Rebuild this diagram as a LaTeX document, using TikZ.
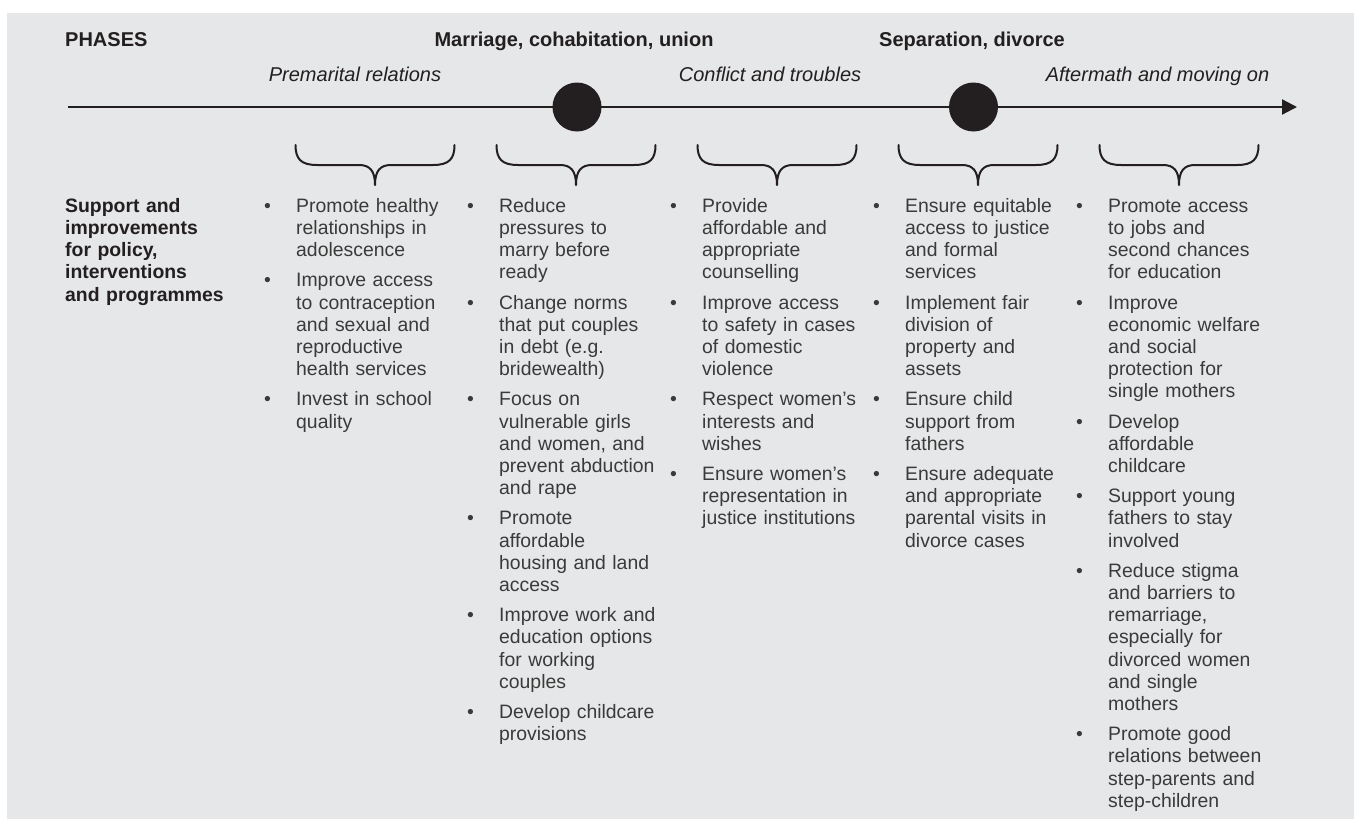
\documentclass[tikz,border=0pt]{standalone}
\usepackage{fontspec}
\setmainfont{Liberation Sans}
\usetikzlibrary{arrows.meta}
\definecolor{bg}{HTML}{E6E7E8}
\definecolor{ink}{HTML}{231F20}
\definecolor{bodytext}{HTML}{3A3A3A}
\newcommand{\bl}{\leavevmode\llap{\makebox[32pt][l]{•}}}
\newcommand{\fs}{\fontsize{19.4}{22.2}\selectfont}
\newcommand{\fst}{\rule{0pt}{16pt}}
\begin{document}
\begin{tikzpicture}[x=1pt,y=-1pt,
  hd/.style={font=\fontsize{20}{24}\selectfont\bfseries, text=ink, inner sep=0, anchor=base},
  ph/.style={font=\fontsize{20}{24}\selectfont\itshape, text=ink, inner sep=0, anchor=base},
  col/.style={font=\fs, text=bodytext, inner sep=0, anchor=north west, text width=175pt, align=left},
  lbl/.style={font=\fs\bfseries, text=ink, inner sep=0, anchor=north west, text width=180pt, align=left},
  axis/.style={draw=ink, line width=2.2pt},
  dot/.style={circle, fill=ink, minimum size=49pt, inner sep=0},
  brc/.style={draw=ink, line width=2pt, line join=round, line cap=round}]
\fill[white] (0,0) rectangle (1354,819);
\fill[bg] (7,13) rectangle (1354,819);
\useasboundingbox (0,0) rectangle (1354,819);

% headings
\node[hd, anchor=base west] (phases) at (65,46) {PHASES};
\node[hd] (marr) at (574,46) {Marriage, cohabitation, union};
\node[hd] (sep) at (972,46) {Separation, divorce};
\node[ph] (pre) at (355,81) {Premarital relations};
\node[ph] (con) at (770,81) {Conflict and troubles};
\node[ph] (aft) at (1157.5,81) {Aftermath and moving on};

% axis
\coordinate (axs) at (68,107);
\coordinate (axe) at (1297,107);
\draw[axis, -{Triangle[length=15pt,width=15pt]}] (axs) -- (axe);
\node[dot] (d1) at (577,107) {};
\node[dot] (d2) at (973.5,107) {};

% braces
\foreach \c in {375,576,777,978,1179}{
  \draw[brc] (\c-79.5,145) .. controls (\c-79.5,159) and (\c-74,165) .. (\c-58,165)
    -- (\c-16,165) .. controls (\c-5,165) and (\c,171) .. (\c,185)
    .. controls (\c,171) and (\c+5,165) .. (\c+16,165)
    -- (\c+58,165) .. controls (\c+74,165) and (\c+79.5,159) .. (\c+79.5,145);
}

% left label
\node[lbl] (lab) at (65,196) {\fst Support and\\improvements\\for policy,\\interventions\\and programmes};

% columns
\node[col] (c1) at (296,196) {\fst\bl Promote healthy\\relationships in\\adolescence\\[8pt]
\bl Improve access\\to contraception\\and sexual and\\reproductive\\health services\\[8pt]
\bl Invest in school\\quality};

\node[col] (c2) at (499,196) {\fst\bl Reduce\\pressures to\\marry before\\ready\\[8pt]
\bl Change norms\\that put couples\\in debt (e.g.\\bridewealth)\\[8pt]
\bl Focus on\\vulnerable girls\\and women, and\\prevent abduction\\and rape\\[8pt]
\bl Promote\\affordable\\housing and land\\access\\[8pt]
\bl Improve work and\\education options\\for working\\couples\\[8pt]
\bl Develop childcare\\provisions};

\node[col] (c3) at (702,196) {\fst\bl Provide\\affordable and\\appropriate\\counselling\\[8pt]
\bl Improve access\\to safety in cases\\of domestic\\violence\\[8pt]
\bl Respect women’s\\interests and\\wishes\\[8pt]
\bl Ensure women’s\\representation in\\justice institutions};

\node[col] (c4) at (905,196) {\fst\bl Ensure equitable\\access to justice\\and formal\\services\\[8pt]
\bl Implement fair\\division of\\property and\\assets\\[8pt]
\bl Ensure child\\support from\\fathers\\[8pt]
\bl Ensure adequate\\and appropriate\\parental visits in\\divorce cases};

\node[col] (c5) at (1108,196) {\fst\bl Promote access\\to jobs and\\second chances\\for education\\[8pt]
\bl Improve\\economic welfare\\and social\\protection for\\single mothers\\[8pt]
\bl Develop\\affordable\\childcare\\[8pt]
\bl Support young\\fathers to stay\\involved\\[8pt]
\bl Reduce stigma\\and barriers to\\remarriage,\\especially for\\divorced women\\and single\\mothers\\[8pt]
\bl Promote good\\relations between\\step-parents and\\step-children};
\end{tikzpicture}
\end{document}
